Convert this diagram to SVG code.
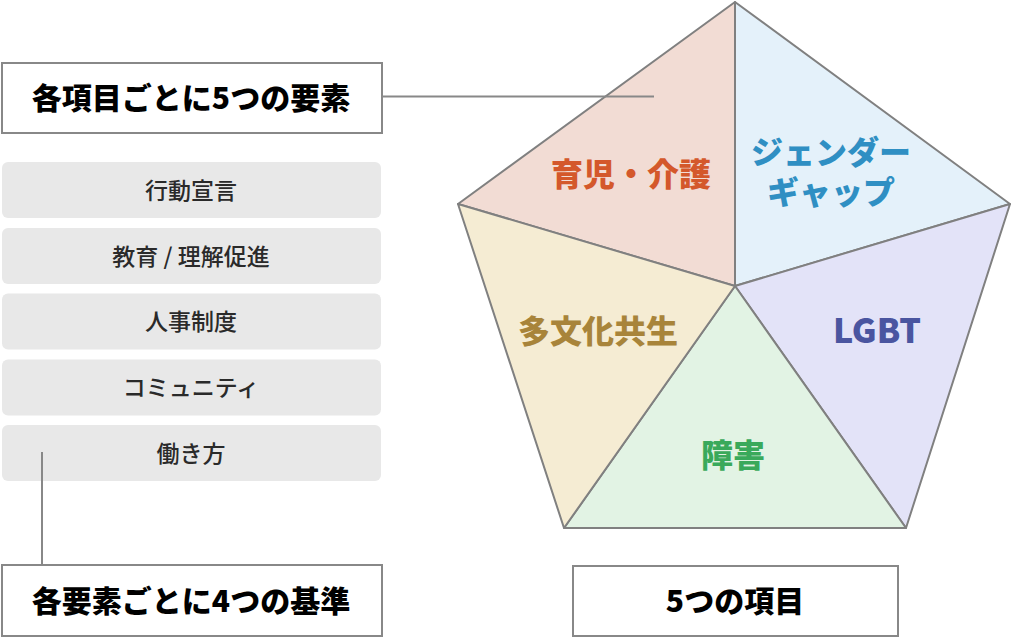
<svg xmlns="http://www.w3.org/2000/svg" width="1013" height="638" viewBox="0 0 1013 638">
<style>
text{font-family:"Noto Sans CJK JP","Noto Sans",sans-serif;text-anchor:middle}
.seg{stroke:#808080;stroke-width:2;stroke-linejoin:round}
.seglabel{font-size:32px;font-weight:900}
.frame{fill:#fff;stroke:#888;stroke-width:2}
.frametext{font-size:30px;font-weight:900;fill:#000}
.elem{fill:#e8e8e8}
.elemtext{font-size:23px;font-weight:500;fill:#2a2a2a}
.conn{stroke:#888;stroke-width:2;fill:none}
</style>
<rect width="1013" height="638" fill="#fff"/>
<g id="pentagon">
  <g id="seg-ikuji">
    <polygon class="seg" fill="#f2dcd4" points="735,286 458,204 735,2"/>
    <text class="seglabel" x="631" y="186" fill="#d4582b">育児・介護</text>
  </g>
  <g id="seg-gender">
    <polygon class="seg" fill="#e4f1fa" points="735,286 735,2 1010,204"/>
    <text class="seglabel" fill="#2f8fc3"><tspan x="831" y="164">ジェンダー</tspan><tspan x="831" y="204">ギャップ</tspan></text>
  </g>
  <g id="seg-lgbt">
    <polygon class="seg" fill="#e3e3f8" points="735,286 1010,204 906,528"/>
    <text class="seglabel" x="877" y="343" fill="#4a55a0" style="font-size:34px">LGBT</text>
  </g>
  <g id="seg-shogai">
    <polygon class="seg" fill="#e2f3e4" points="735,286 906,528 564,528"/>
    <text class="seglabel" x="733" y="467" fill="#3aa95b">障害</text>
  </g>
  <g id="seg-tabunka">
    <polygon class="seg" fill="#f5ecd3" points="735,286 564,528 458,204"/>
    <text class="seglabel" x="598" y="343" fill="#a8843a">多文化共生</text>
  </g>
</g>
<g id="box-elements-title">
  <rect class="frame" x="2" y="63" width="380" height="70"/>
  <text class="frametext" x="191" y="108.5">各項目ごとに5つの要素</text>
</g>
<g id="elem-1">
  <rect class="elem" x="2" y="162" width="379" height="56" rx="6"/>
  <text class="elemtext" x="191" y="198.5">行動宣言</text>
</g>
<g id="elem-2">
  <rect class="elem" x="2" y="228" width="379" height="56" rx="6"/>
  <text class="elemtext" x="191" y="264.5">教育 / 理解促進</text>
</g>
<g id="elem-3">
  <rect class="elem" x="2" y="293.5" width="379" height="56" rx="6"/>
  <text class="elemtext" x="191" y="330">人事制度</text>
</g>
<g id="elem-4">
  <rect class="elem" x="2" y="359.5" width="379" height="56" rx="6"/>
  <text class="elemtext" x="191" y="396">コミュニティ</text>
</g>
<g id="elem-5">
  <rect class="elem" x="2" y="425" width="379" height="56" rx="6"/>
  <text class="elemtext" x="191" y="461.5">働き方</text>
</g>
<g id="box-criteria-title">
  <rect class="frame" x="2" y="565" width="380" height="71"/>
  <text class="frametext" x="191" y="611.5">各要素ごとに4つの基準</text>
</g>
<g id="box-items-title">
  <rect class="frame" x="573" y="566" width="325" height="70"/>
  <text class="frametext" x="735" y="611.5">5つの項目</text>
</g>
<g id="connectors">
  <line class="conn" x1="383" y1="96.5" x2="654" y2="96.5"/>
  <line class="conn" x1="42" y1="452" x2="42" y2="565"/>
</g>
</svg>
